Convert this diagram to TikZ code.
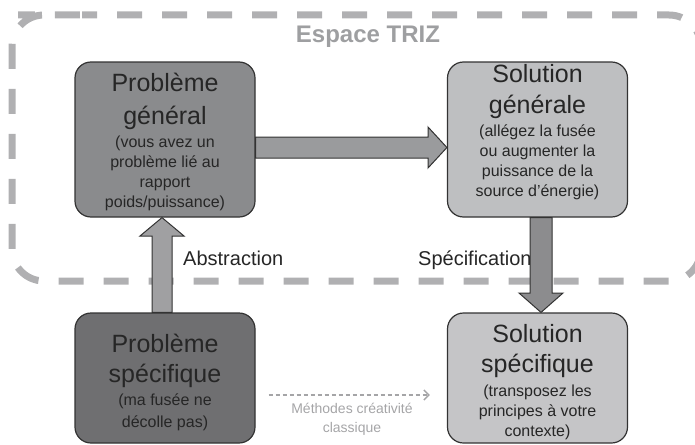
\documentclass[tikz,border=0pt]{standalone}
\usepackage{fontspec}
\setmainfont{Liberation Sans}
\usetikzlibrary{arrows.meta,calc}
\definecolor{pgfill}{HTML}{8A8B8D}
\definecolor{psfill}{HTML}{6F6F71}
\definecolor{sgfill}{HTML}{BEBFC1}
\definecolor{ssfill}{HTML}{C5C5C7}
\definecolor{edge}{HTML}{333333}
\definecolor{ink}{HTML}{262626}
\definecolor{framegray}{HTML}{B0B0B2}
\definecolor{trizgray}{HTML}{9E9FA1}
\definecolor{harrow}{HTML}{9A9B9D}
\definecolor{uarrow}{HTML}{A0A0A2}
\definecolor{darrow}{HTML}{8C8C8E}
\definecolor{faint}{HTML}{A5A5A7}
\begin{document}
\begin{tikzpicture}[x=1pt,y=-1pt,
  box/.style={draw=edge, line width=1.2pt, rounded corners=16pt, minimum width=180pt, inner sep=0pt},
  titletext/.style={anchor=base, align=center, text=ink, font=\fontsize{25}{32}\selectfont, inner sep=0pt},
  subtext/.style={anchor=base, align=center, text=ink, font=\fontsize{16}{20}\selectfont, inner sep=0pt},
  labeltext/.style={anchor=base west, text=ink, font=\fontsize{20}{24}\selectfont, inner sep=0pt},
  blockarrow/.style={draw=edge, line width=1pt, line join=miter}]
\useasboundingbox (0,0) rectangle (695,444);

% TRIZ space frame
\draw[framegray, line width=7pt, dash pattern=on 25pt off 20pt, dash phase=10pt, rounded corners=32pt]
  (50,15) -- (701,15) -- (701,281) -- (12,281) -- (12,15) -- cycle;
\node[anchor=base, text=trizgray, font=\fontsize{24}{28}\selectfont\bfseries, inner sep=0pt] (triz) at (368,43) {Espace TRIZ};

% boxes
\node[box, fill=pgfill, minimum height=155pt] (pg) at (165,139.5) {};
\node[box, fill=sgfill, minimum height=155pt] (sg) at (537.5,139.5) {};
\node[box, fill=psfill, minimum height=130pt] (ps) at (165,378) {};
\node[box, fill=ssfill, minimum height=130pt] (ss) at (537.5,378) {};

% box texts (base anchor = baseline of the last line)
\node[titletext, font=\fontsize{25}{33}\selectfont] (pgt) at (165,124) {Problème\\général};
\node[subtext] (pgs) at (165,207) {(vous avez un\\problème lié au\\rapport\\poids/puissance)};
\node[titletext, font=\fontsize{25}{31}\selectfont] (sgt) at (537.5,113) {Solution\\générale};
\node[subtext] (sgs) at (537.5,196) {(allégez la fusée\\ou augmenter la\\puissance de la\\source d’énergie)};
\node[titletext, font=\fontsize{25}{30}\selectfont] (pst) at (165,382) {Problème\\spécifique};
\node[subtext, font=\fontsize{16}{22}\selectfont] (pss) at (165,427) {(ma fusée ne\\décolle pas)};
\node[titletext, font=\fontsize{25}{30}\selectfont] (sst) at (537.5,372) {Solution\\spécifique};
\node[subtext] (sss) at (537.5,436) {(transposez les\\principes à votre\\contexte)};

% labels
\node[labeltext] (abs) at (183,265) {Abstraction};
\node[labeltext] (spec) at (418,265) {Spécification};
\node[anchor=base, align=center, text=faint, font=\fontsize{14}{19}\selectfont, inner sep=0pt] (meth) at (352,432) {Méthodes créativité\\classique};

% block arrows
\draw[blockarrow, fill=harrow] (pg.east |- 0,137) -- (428,137) -- (428,127) -- (sg.west |- 0,147.5)
  -- (428,168) -- (428,158) -- (pg.east |- 0,158) -- cycle;
\draw[blockarrow, fill=uarrow] (ps.north -| 152,0) -- (152,236) -- (140,236) -- (pg.south -| 162,0)
  -- (184,236) -- (172,236) -- (ps.north -| 172,0) -- cycle;
\draw[blockarrow, fill=darrow] (sg.south -| 530,0) -- (530,293) -- (519,293) -- (ss.north -| 541,0)
  -- (563,293) -- (552,293) -- (sg.south -| 552,0) -- cycle;

% classic creativity dashed arrow
\draw[faint, line width=1.5pt, dash pattern=on 4pt off 3pt, -{Straight Barb[length=5pt,width=10pt]},
  shorten <=13pt, shorten >=17pt] (ps.east |- 0,395) -- (ss.west |- 0,395);
\end{tikzpicture}
\end{document}
